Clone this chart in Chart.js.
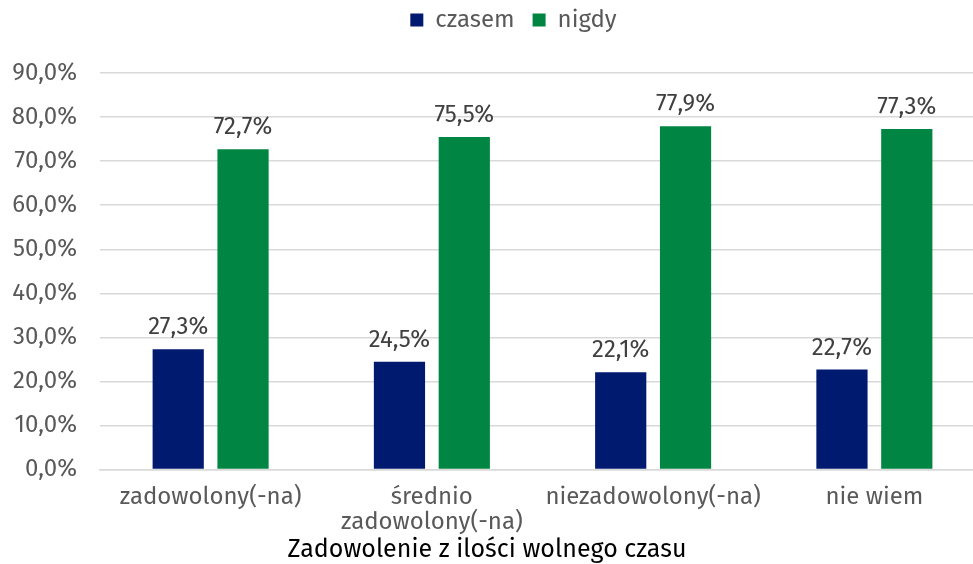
<!DOCTYPE html>
<html><head><meta charset="utf-8">
<script src="https://cdn.jsdelivr.net/npm/chart.js@4"></script>
<style>html,body{margin:0;padding:0;background:#fff;overflow:hidden}#w{width:985px;height:564px}</style>
</head><body><div id="w"><canvas id="c"></canvas></div>
<script>
const categories = [["zadowolony(-na)"], ["średnio", "zadowolony(-na)"], ["niezadowolony(-na)"], ["nie wiem"]];
const seriesNames = ["czasem", "nigdy"];
const czasem = [27.3, 24.5, 22.1, 22.7];
const nigdy = [72.7, 75.5, 77.9, 77.3];
const axisTitle = "Zadowolenie z ilości wolnego czasu";
const fmt = v => v.toFixed(1).replace('.', ',') + '%';
const FONT = "'Fira Sans','Noto Sans','Open Sans',sans-serif";

const labelPlugin = {
  id: 'labels',
  afterDatasetsDraw(chart) {
    const ctx = chart.ctx;
    ctx.save();
    ctx.font = "24px " + FONT;
    ctx.fillStyle = '#404040';
    ctx.textAlign = 'center';
    ctx.textBaseline = 'alphabetic';
    chart.data.datasets.forEach((ds, i) => {
      chart.getDatasetMeta(i).data.forEach((bar, j) => {
        ctx.fillText(fmt(ds.data[j]), bar.x, bar.y - 15);
      });
    });
    ctx.restore();
  }
};
const titlePlugin = {
  id: 'xTitle',
  afterDraw(chart) {
    const ctx = chart.ctx;
    ctx.save();
    ctx.font = "25px " + FONT;
    ctx.fillStyle = '#000';
    ctx.textAlign = 'center';
    ctx.textBaseline = 'middle';
    ctx.fillText(axisTitle, 487, 550);
    ctx.restore();
  }
};
const legendMargin = {
  id: 'legendMargin',
  beforeInit(chart) {
    const orig = chart.legend.fit;
    chart.legend.fit = function () { orig.bind(chart.legend)(); this.height += 19; };
  },
  afterLayout(chart) {
    const lg = chart.legend;
    lg.left += 17; lg.right += 17;
    lg.top -= 12; lg.bottom -= 12;
  }
};

new Chart(document.getElementById('c'), {
  type: 'bar',
  data: {
    labels: categories,
    datasets: [
      { label: seriesNames[0], data: czasem, backgroundColor: '#001A70' },
      { label: seriesNames[1], data: nigdy, backgroundColor: '#008542' }
    ]
  },
  options: {
    responsive: true, maintainAspectRatio: false, animation: false,
    layout: { padding: { left: 8, right: 0, top: 2, bottom: 22 } },
    categoryPercentage: 0.586, barPercentage: 0.79,
    plugins: {
      legend: {
        position: 'top',
        labels: { boxWidth: 13, boxHeight: 13, color: '#595959', font: { size: 24, family: FONT }, padding: 18 }
      },
      tooltip: { enabled: false }
    },
    scales: {
      y: {
        min: 0, max: 90,
        afterFit: s => { s.width = 92; },
        ticks: { stepSize: 10, callback: v => fmt(v), color: '#595959', font: { size: 24, family: FONT }, padding: 23 },
        grid: { color: '#d9d9d9', lineWidth: 1.5, drawTicks: false },
        border: { display: false }
      },
      x: {
        ticks: { color: '#595959', font: { size: 24, family: FONT, lineHeight: 1.05 }, padding: 7, maxRotation: 0, autoSkip: false },
        grid: { display: false },
        border: { display: true, color: '#d9d9d9', width: 1.5 }
      }
    }
  },
  plugins: [labelPlugin, legendMargin, titlePlugin]
});
</script></body></html>
